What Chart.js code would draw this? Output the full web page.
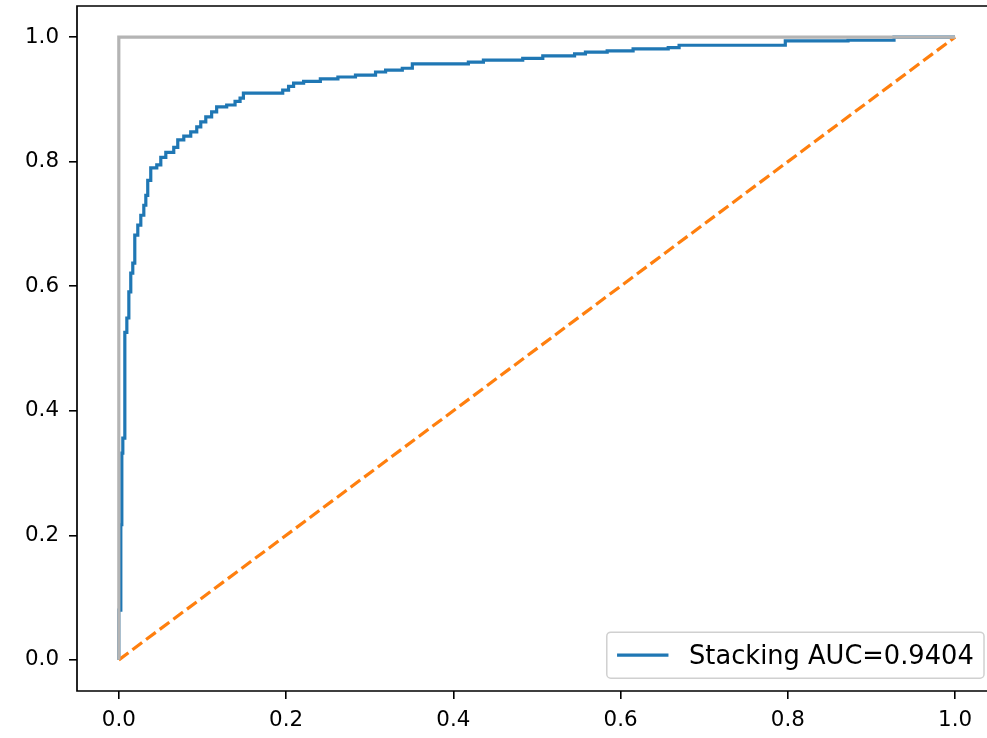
<!DOCTYPE html>
<html>
<head>
<meta charset="utf-8">
<script src="https://cdn.jsdelivr.net/npm/chart.js@4/dist/chart.umd.min.js"></script>
<style>
  html, body { margin: 0; padding: 0; background: #fff; overflow: hidden; }
  canvas { display: block; }
</style>
</head>
<body>
<canvas id="roc" width="987" height="738"></canvas>
<script>
// ROC curve of the stacking model (corner points, fpr/tpr)
const fpr = [0, 0, 0.0024, 0.0024, 0.0036, 0.0036, 0.0048, 0.0048, 0.0072, 0.0072,
  0.0096, 0.0096, 0.012, 0.012, 0.0143, 0.0143, 0.0167, 0.0167, 0.0191, 0.0191,
  0.0227, 0.0227, 0.0263, 0.0263, 0.0299, 0.0299, 0.0323, 0.0323, 0.0346, 0.0346,
  0.0382, 0.0382, 0.0454, 0.0454, 0.0502, 0.0502, 0.0562, 0.0562, 0.0657, 0.0657,
  0.0705, 0.0705, 0.0777, 0.0777, 0.086, 0.086, 0.0932, 0.0932, 0.098, 0.098,
  0.104, 0.104, 0.111, 0.111, 0.117, 0.117, 0.129, 0.129, 0.139, 0.139,
  0.145, 0.145, 0.149, 0.149, 0.196, 0.196, 0.203, 0.203, 0.209, 0.209,
  0.221, 0.221, 0.241, 0.241, 0.262, 0.262, 0.283, 0.283, 0.307, 0.307,
  0.319, 0.319, 0.339, 0.339, 0.351, 0.351, 0.418, 0.418, 0.436, 0.436,
  0.483, 0.483, 0.507, 0.507, 0.545, 0.545, 0.558, 0.558, 0.584, 0.584,
  0.615, 0.615, 0.657, 0.657, 0.670, 0.670, 0.797, 0.797, 0.872, 0.872,
  0.927, 0.927, 1];
const tpr = [0, 0.080, 0.080, 0.217, 0.217, 0.332, 0.332, 0.356, 0.356, 0.526,
  0.526, 0.549, 0.549, 0.591, 0.591, 0.621, 0.621, 0.637, 0.637, 0.682,
  0.682, 0.698, 0.698, 0.714, 0.714, 0.730, 0.730, 0.746, 0.746, 0.770,
  0.770, 0.790, 0.790, 0.795, 0.795, 0.807, 0.807, 0.815, 0.815, 0.823,
  0.823, 0.835, 0.835, 0.841, 0.841, 0.848, 0.848, 0.856, 0.856, 0.864,
  0.864, 0.872, 0.872, 0.880, 0.880, 0.888, 0.888, 0.891, 0.891, 0.897,
  0.897, 0.902, 0.902, 0.910, 0.910, 0.915, 0.915, 0.921, 0.921, 0.926,
  0.926, 0.929, 0.929, 0.933, 0.933, 0.936, 0.936, 0.939, 0.939, 0.944,
  0.944, 0.947, 0.947, 0.950, 0.950, 0.957, 0.957, 0.960, 0.960, 0.963,
  0.963, 0.966, 0.966, 0.970, 0.970, 0.973, 0.973, 0.976, 0.976, 0.978,
  0.978, 0.981, 0.981, 0.983, 0.983, 0.987, 0.987, 0.994, 0.994, 0.995,
  0.995, 1.0, 1.0];
const aucLabel = 'Stacking AUC=0.9404';

// reference lines: chance diagonal and perfect classifier
const diagX = [0, 1];
const diagY = [0, 1];
const perfectX = [0, 0, 1];
const perfectY = [0, 1, 1];

const xTicks = [0, 0.2, 0.4, 0.6, 0.8, 1.0];
const yTicks = [0, 0.2, 0.4, 0.6, 0.8, 1.0];

// axes run -0.05..1.05; the figure is cut just before the right spine
const AXIS_MIN = -0.05;
const AXIS_MAX = 1.05;
const X_VISIBLE_MAX = 1.0382;

const FONT = 'DejaVu Sans';
const toPoints = (xs, ys) => xs.map((x, i) => ({ x: x, y: ys[i] }));

// left/top/bottom spines + legend box in the lower right corner
const frameAndLegend = {
    id: 'frameAndLegend',
    afterDraw(chart) {
        const ctx = chart.ctx;
        const a = chart.chartArea;
        ctx.save();
        ctx.strokeStyle = '#000';
        ctx.lineWidth = 1.7;
        ctx.beginPath();
        ctx.moveTo(chart.width, a.top);
        ctx.lineTo(a.left, a.top);
        ctx.lineTo(a.left, a.bottom);
        ctx.lineTo(chart.width, a.bottom);
        ctx.stroke();

        const ds = chart.data.datasets.find(d => d.showInLegend);
        const fs = 25.7;
        ctx.font = fs + 'px "' + FONT + '"';
        const tw = ctx.measureText(ds.label).width;
        const pad = 0.4 * fs, handle = 2.0 * fs, gap = 0.8 * fs;
        const w = pad + handle + gap + tw + pad;
        const h = 46;
        const axRight = chart.scales.x.getPixelForValue(AXIS_MAX);
        const bx = axRight - 0.5 * fs - w;
        const by = a.bottom - 0.5 * fs - h;

        ctx.beginPath();
        ctx.roundRect(bx, by, w, h, 4);
        ctx.fillStyle = 'rgba(255,255,255,0.8)';
        ctx.fill();
        ctx.strokeStyle = '#d0d0d0';
        ctx.lineWidth = 1.5;
        ctx.stroke();

        const cy = by + h / 2;
        ctx.beginPath();
        ctx.moveTo(bx + pad, cy);
        ctx.lineTo(bx + pad + handle, cy);
        ctx.strokeStyle = ds.borderColor;
        ctx.lineWidth = ds.borderWidth;
        ctx.stroke();

        ctx.fillStyle = '#000';
        ctx.textBaseline = 'middle';
        ctx.fillText(ds.label, bx + pad + handle + gap, cy + 2);
        ctx.restore();
    }
};

// no extra room for half-labels at the axis ends
const noPadding = s => {
    s.paddingTop = 0;
    s.paddingBottom = 0;
    s.paddingLeft = 0;
    s.paddingRight = 0;
};

const axisCommon = {
    type: 'linear',
    border: { display: false },
    grid: {
        drawOnChartArea: false,
        drawTicks: true,
        tickLength: 8,
        color: '#000',
        lineWidth: 1.6
    },
    ticks: {
        color: '#000',
        font: { family: FONT, size: 21.4 },
        callback: v => Number(v).toFixed(1)
    }
};

new Chart(document.getElementById('roc'), {
    type: 'scatter',
    data: {
        datasets: [
            {
                label: 'perfect',
                data: toPoints(perfectX, perfectY),
                showLine: true,
                borderColor: '#b4b4b4',
                borderWidth: 3.2,
                pointRadius: 0
            },
            {
                label: 'chance',
                data: toPoints(diagX, diagY),
                showLine: true,
                borderColor: '#ff7f0e',
                borderWidth: 3.2,
                borderDash: [12, 5],
                pointRadius: 0
            },
            {
                label: aucLabel,
                data: toPoints(fpr, tpr),
                showLine: true,
                showInLegend: true,
                borderColor: '#1f77b4',
                borderWidth: 3.2,
                pointRadius: 0
            }
        ]
    },
    options: {
        responsive: false,
        animation: false,
        layout: { padding: { top: 6, right: 0, left: 0, bottom: 0 } },
        plugins: {
            legend: { display: false },
            tooltip: { enabled: false }
        },
        scales: {
            x: {
                ...axisCommon,
                min: AXIS_MIN,
                max: X_VISIBLE_MAX,
                position: 'bottom',
                ticks: { ...axisCommon.ticks, padding: 9, maxRotation: 0 },
                afterBuildTicks: s => { s.ticks = xTicks.map(v => ({ value: v })); },
                afterFit: s => { s.height = 47; noPadding(s); }
            },
            y: {
                ...axisCommon,
                min: AXIS_MIN,
                max: AXIS_MAX,
                position: 'left',
                ticks: { ...axisCommon.ticks, padding: 10 },
                afterBuildTicks: s => { s.ticks = yTicks.map(v => ({ value: v })); },
                afterFit: s => { s.width = 77; noPadding(s); }
            }
        }
    },
    plugins: [frameAndLegend]
});
</script>
</body>
</html>
